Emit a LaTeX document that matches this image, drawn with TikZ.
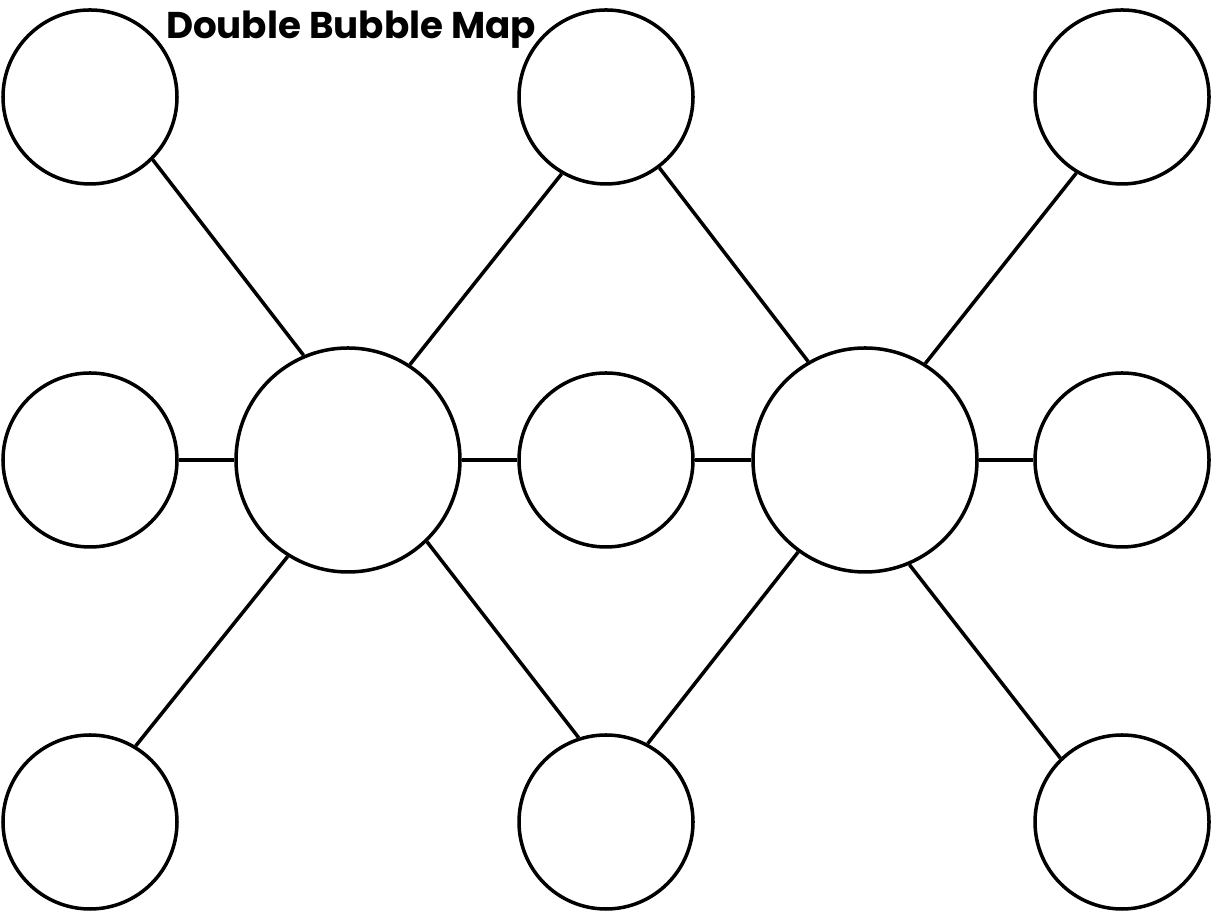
\documentclass[tikz,border=0pt]{standalone}
\usepackage{fontspec}
\newfontfamily\titlefont{Poppins}
\usetikzlibrary{positioning}

\begin{document}
\begin{tikzpicture}[
    bubble/.style={draw, circle, line width=1pt, minimum size=1.74cm, inner sep=0pt},
    bigbubble/.style={bubble, minimum size=2.24cm},
    link/.style={line width=1pt},
    title/.style={font=\titlefont\bfseries\fontsize{10.6}{12}\selectfont},
]
\useasboundingbox (0,0) rectangle (12.13,9.16);

% outer bubbles: top, middle and bottom row
\foreach \i/\x in {1/0.90, 2/6.06, 3/11.22} {
    \node[bubble] (t\i) at (\x, 8.19) {};
    \node[bubble] (m\i) at (\x, 4.56) {};
    \node[bubble] (b\i) at (\x, 0.94) {};
}

% the two main topics
\node[bigbubble] (topicA) at (3.48, 4.56) {};
\node[bigbubble] (topicB) at (8.65, 4.56) {};

% links of the first topic
\foreach \a/\n/\b in {113/t1/-45, 57/t2/-120, 180/m1/0, 0/m2/180, -122/b1/59, -46/b2/108} {
    \draw[link] (topicA.\a) -- (\n.\b);
}
% links of the second topic
\foreach \a/\n/\b in {120/t2/-53, 58/t3/-121, 180/m2/0, 0/m3/180, -126/b2/62, -67/b3/134} {
    \draw[link] (topicB.\a) -- (\n.\b);
}

\node[title] (head) at (3.51, 8.86) {Double Bubble Map};

\end{tikzpicture}
\end{document}
